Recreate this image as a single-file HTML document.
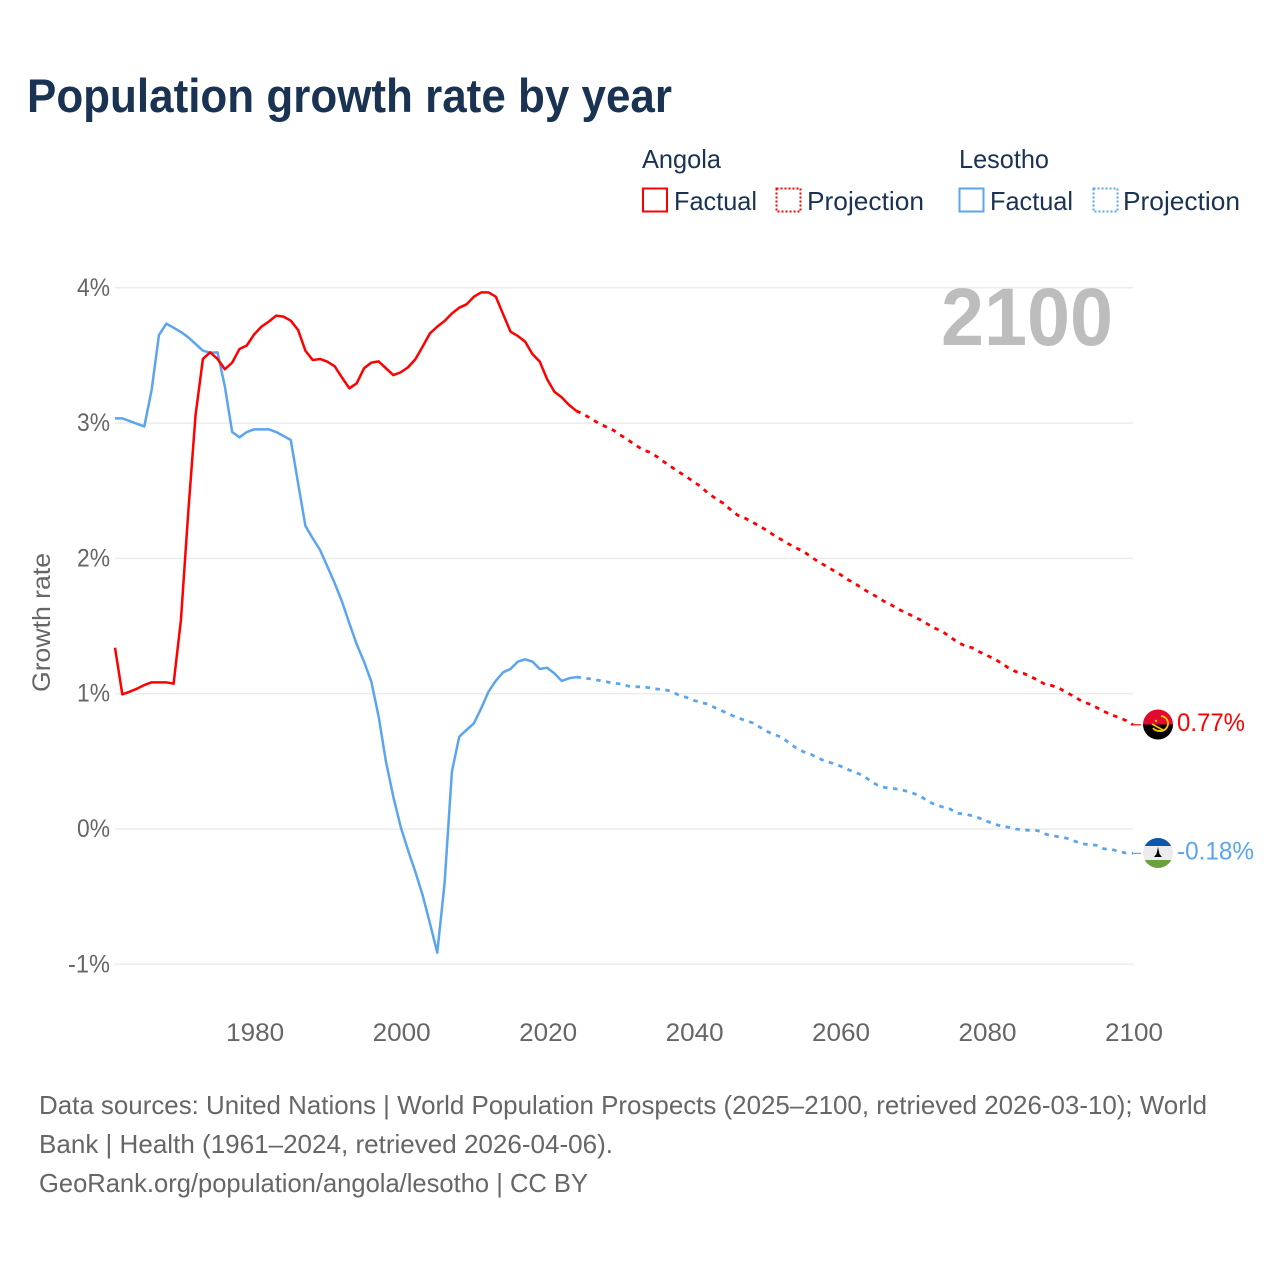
<!DOCTYPE html>
<html lang="en">
<head>
<meta charset="utf-8">
<title>Population growth rate by year</title>
<style>
html,body{margin:0;padding:0;background:#fff;}
svg{display:block;}
text{font-family:"Liberation Sans",sans-serif;}
</style>
</head>
<body>
<svg id="chart" xmlns="http://www.w3.org/2000/svg" width="1280" height="1280" viewBox="0 0 1280 1280">
  <rect x="0" y="0" width="1280" height="1280" fill="#ffffff"/>
  <text x="27" y="112" font-size="47" font-weight="bold" fill="#1a3353" textLength="645" lengthAdjust="spacingAndGlyphs">Population growth rate by year</text>

  <g font-size="26" fill="#1a3353">
    <text x="642" y="168" textLength="79" lengthAdjust="spacingAndGlyphs">Angola</text>
    <text x="959" y="168" textLength="90" lengthAdjust="spacingAndGlyphs">Lesotho</text>
    <rect x="643" y="188.5" width="24" height="23" fill="none" stroke="#ff0000" stroke-width="2"/>
    <text x="674" y="210" textLength="83" lengthAdjust="spacingAndGlyphs">Factual</text>
    <rect x="776.5" y="188.5" width="24" height="23" fill="none" stroke="#ff0000" stroke-width="2" stroke-dasharray="2 2"/>
    <text x="807" y="210" textLength="117" lengthAdjust="spacingAndGlyphs">Projection</text>
    <rect x="959.5" y="188.5" width="24" height="23" fill="none" stroke="#5aa5ee" stroke-width="2"/>
    <text x="990" y="210" textLength="83" lengthAdjust="spacingAndGlyphs">Factual</text>
    <rect x="1093.5" y="188.5" width="24" height="23" fill="none" stroke="#5aa5ee" stroke-width="2" stroke-dasharray="2 2"/>
    <text x="1123" y="210" textLength="117" lengthAdjust="spacingAndGlyphs">Projection</text>
  </g>

  <g id="grid"></g>
  <g id="yLabels"></g>
  <g id="xLabels"></g>

  <text transform="translate(50,622.5) rotate(-90)" text-anchor="middle" font-size="25" fill="#666666" textLength="139" lengthAdjust="spacingAndGlyphs">Growth rate</text>
  <text x="941" y="345" font-size="82" font-weight="bold" fill="#bdbdbd" textLength="172" lengthAdjust="spacingAndGlyphs">2100</text>

  <g id="series"></g>

  <defs>
    <clipPath id="clipAngola"><circle cx="1158" cy="724.5" r="15"/></clipPath>
    <clipPath id="clipLesotho"><circle cx="1158" cy="853" r="15"/></clipPath>
  </defs>
  <g clip-path="url(#clipAngola)">
    <rect x="1143" y="709" width="30" height="15.5" fill="#e20a2f"/>
    <rect x="1143" y="724.5" width="30" height="15" fill="#000000"/>
    <path d="M1161 716 A7.5 7.5 0 0 1 1160 731 Q1155 731 1153 728" fill="none" stroke="#f8c300" stroke-width="1.9"/>
    <path d="M1152 724 L1163 730" fill="none" stroke="#f8c300" stroke-width="1.8"/>
    <circle cx="1156" cy="721" r="1.2" fill="#f8c300"/>
  </g>
  <g clip-path="url(#clipLesotho)">
    <rect x="1143" y="838" width="30" height="10" fill="#0a57ad"/>
    <rect x="1143" y="846" width="30" height="15" fill="#ececec"/>
    <rect x="1143" y="860" width="30" height="9" fill="#6b9f3f"/>
    <path d="M1158 847 L1159.5 854 L1162 857 L1154 857 L1156.5 854 Z" fill="#000000"/>
  </g>

  <g id="endLabels"></g>

  <g font-size="26" fill="#666666">
    <text x="39" y="1114" textLength="1168" lengthAdjust="spacingAndGlyphs">Data sources: United Nations | World Population Prospects (2025–2100, retrieved 2026-03-10); World</text>
    <text x="39" y="1153" textLength="574" lengthAdjust="spacingAndGlyphs">Bank | Health (1961–2024, retrieved 2026-04-06).</text>
    <text x="39" y="1192" textLength="549" lengthAdjust="spacingAndGlyphs">GeoRank.org/population/angola/lesotho | CC BY</text>
  </g>
</svg>

<script>
const yTicks = [-1, 0, 1, 2, 3, 4];
const xTicks = [1980, 2000, 2020, 2040, 2060, 2080, 2100];
const firstYear = 1961;
const firstProjectionYear = 2025;

const angolaFactual = [
  1.34,0.995,1.015,1.037,1.064,1.084,1.084,1.084,1.074,1.545,
  2.34,3.06,3.474,3.523,3.474,3.398,3.447,3.548,3.574,3.656,
  3.713,3.75,3.794,3.787,3.757,3.688,3.535,3.466,3.474,3.454,
  3.42,3.336,3.257,3.294,3.405,3.447,3.456,3.405,3.355,3.375,
  3.412,3.471,3.565,3.663,3.713,3.755,3.81,3.853,3.878,3.934,
  3.966,3.966,3.934,3.804,3.676,3.644,3.602,3.51,3.454,3.324,
  3.232,3.19,3.134,3.09
];
const angolaProjection = [
  3.065,3.033,3.0,2.974,2.949,2.912,
  2.877,2.84,2.806,2.784,2.752,2.712,2.675,2.638,2.604,2.567,
  2.53,2.48,2.444,2.409,2.363,2.32,2.298,2.269,2.239,2.207,
  2.17,2.138,2.106,2.077,2.052,2.013,1.976,1.946,1.914,1.882,
  1.845,1.816,1.779,1.747,1.717,1.683,1.656,1.624,1.597,1.572,
  1.545,1.513,1.483,1.458,1.421,1.382,1.355,1.34,1.31,1.284,
  1.259,1.227,1.19,1.163,1.151,1.128,1.099,1.069,1.059,1.037,
  1.007,0.978,0.944,0.924,0.899,0.87,0.845,0.826,0.803,0.77
];
const lesothoFactual = [
  3.035,3.035,3.015,2.995,2.975,3.245,3.65,3.735,3.705,3.673,
  3.634,3.585,3.535,3.52,3.523,3.27,2.934,2.895,2.934,2.954,
  2.954,2.954,2.934,2.905,2.875,2.555,2.24,2.148,2.062,1.94,
  1.816,1.68,1.52,1.365,1.237,1.089,0.83,0.497,0.239,0.017,
  -0.155,-0.315,-0.488,-0.697,-0.914,-0.40,0.424,0.682,0.732,0.781,
  0.892,1.015,1.096,1.158,1.183,1.237,1.254,1.237,1.183,1.192,
  1.15,1.094,1.114,1.123
];
const lesothoProjection = [
  1.116,1.109,1.099,1.089,1.079,1.072,
  1.057,1.052,1.05,1.044,1.035,1.03,1.018,0.988,0.973,0.951,
  0.936,0.922,0.894,0.87,0.845,0.823,0.803,0.786,0.754,0.722,
  0.697,0.68,0.638,0.599,0.571,0.552,0.525,0.5,0.486,0.466,
  0.441,0.421,0.397,0.362,0.327,0.308,0.301,0.293,0.281,0.264,
  0.242,0.205,0.18,0.163,0.148,0.116,0.111,0.098,0.081,0.059,
  0.037,0.022,0.013,0,-0.007,-0.01,-0.012,-0.037,-0.049,-0.059,
  -0.069,-0.089,-0.109,-0.116,-0.12,-0.146,-0.15,-0.165,-0.177,-0.18
];

const NS = 'http://www.w3.org/2000/svg';
const RED = '#ff0000';
const BLUE = '#5aa5ee';
const xScale = function (year) { return 115 + (year - 1961) * 7.324; };
const yScale = function (v) { return 829 - 135.3 * v; };

function pathFrom(values, startYear) {
  return values.map(function (v, i) {
    return (i ? 'L' : 'M') + xScale(startYear + i).toFixed(2) + ' ' + yScale(v).toFixed(2);
  }).join(' ');
}

const gridG = document.getElementById('grid');
const yG = document.getElementById('yLabels');
const xG = document.getElementById('xLabels');
const seriesG = document.getElementById('series');
const endG = document.getElementById('endLabels');

yTicks.forEach(function (t) {
  const line = document.createElementNS(NS, 'line');
  
  
  line.setAttribute('x1', 115);
  line.setAttribute('x2', 1133);
  line.setAttribute('y1', yScale(t));
  line.setAttribute('y2', yScale(t));
  line.setAttribute('stroke', '#ececec');
  line.setAttribute('stroke-width', '1.5');
  gridG.appendChild(line);

  const label = document.createElementNS(NS, 'text');
  
  
  const str = t + '%';
  label.setAttribute('x', 110 - (str.length === 2 ? 33 : 42));
  label.setAttribute('y', yScale(t) + 8);
  label.setAttribute('font-size', '25');
  label.setAttribute('fill', '#666666');
  label.setAttribute('textLength', str.length === 2 ? 33 : 42);
  label.setAttribute('lengthAdjust', 'spacingAndGlyphs');
  label.textContent = str;
  yG.appendChild(label);
});

xTicks.forEach(function (t) {
  const label = document.createElementNS(NS, 'text');
  
  
  label.setAttribute('x', xScale(t) - 28);
  label.setAttribute('y', 1041);
  label.setAttribute('font-size', '25');
  label.setAttribute('fill', '#666666');
  label.setAttribute('textLength', 58);
  label.setAttribute('lengthAdjust', 'spacingAndGlyphs');
  label.textContent = String(t);
  xG.appendChild(label);
});

function drawSeries(name, color, factual, projection) {
  const lastFactualYear = firstYear + factual.length - 1;
  const last = projection[projection.length - 1];
  const lastYear = firstProjectionYear + projection.length - 1;

  const f = document.createElementNS(NS, 'path');
  
  
  f.setAttribute('d', pathFrom(factual, firstYear));
  f.setAttribute('fill', 'none');
  f.setAttribute('stroke', color);
  f.setAttribute('stroke-width', '2.5');
  f.setAttribute('stroke-linejoin', 'round');
  seriesG.appendChild(f);

  const p = document.createElementNS(NS, 'path');
  
  
  p.setAttribute('d', pathFrom([factual[factual.length - 1]].concat(projection), lastFactualYear));
  p.setAttribute('fill', 'none');
  p.setAttribute('stroke', color);
  p.setAttribute('stroke-width', '2.8');
  p.setAttribute('stroke-dasharray', '4.5 5.5');
  seriesG.appendChild(p);

  const c = document.createElementNS(NS, 'line');
  
  
  c.setAttribute('x1', xScale(lastYear));
  c.setAttribute('x2', xScale(lastYear) + 8);
  c.setAttribute('y1', yScale(last));
  c.setAttribute('y2', yScale(last));
  c.setAttribute('stroke', color);
  c.setAttribute('stroke-width', '1.2');
  seriesG.appendChild(c);

  const t = document.createElementNS(NS, 'text');
  
  
  const str = last.toFixed(2) + '%';
  t.setAttribute('x', 1177);
  t.setAttribute('y', yScale(last) + 6);
  t.setAttribute('font-size', '25');
  t.setAttribute('fill', color);
  t.setAttribute('textLength', str.length === 5 ? 68 : 77);
  t.setAttribute('lengthAdjust', 'spacingAndGlyphs');
  t.textContent = str;
  endG.appendChild(t);
}

drawSeries('lesotho', BLUE, lesothoFactual, lesothoProjection);
drawSeries('angola', RED, angolaFactual, angolaProjection);
</script>
</body>
</html>
